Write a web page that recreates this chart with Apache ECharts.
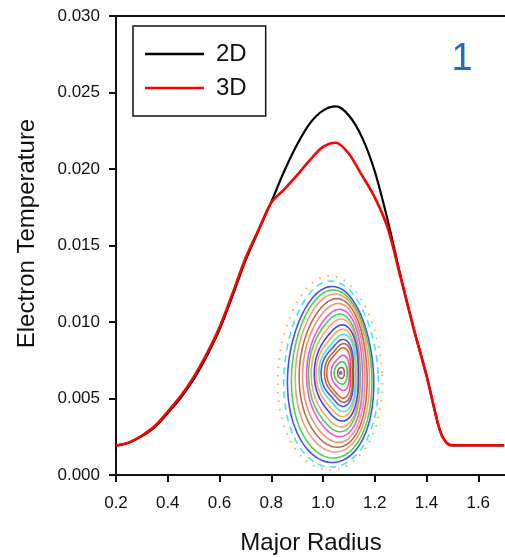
<!DOCTYPE html>
<html>
<head>
<meta charset="utf-8">
<script src="https://cdn.jsdelivr.net/npm/echarts@6/dist/echarts.min.js"></script>
<style>
  html, body { margin: 0; padding: 0; background: #fff; }
  #chart { width: 505px; height: 558px; }
</style>
</head>
<body>
<div id="chart"></div>
<script>
// Electron temperature profiles along the major radius, 2D vs 3D runs.
const radius2D = [0.20, 0.25, 0.30, 0.35, 0.40, 0.45, 0.50, 0.55, 0.60, 0.65, 0.70, 0.75, 0.80, 0.85, 0.90, 0.95, 1.00, 1.05, 1.10, 1.15, 1.20, 1.25, 1.30, 1.35, 1.40, 1.45, 1.475, 1.50, 1.55, 1.60, 1.70];
const te2D = [0.00192, 0.00211, 0.00254, 0.00313, 0.00405, 0.00505, 0.00625, 0.00775, 0.00950, 0.01170, 0.01400, 0.01595, 0.01785, 0.01985, 0.02160, 0.02300, 0.02382, 0.02409, 0.02350, 0.02210, 0.01985, 0.01665, 0.01300, 0.00960, 0.00650, 0.00300, 0.00215, 0.00194, 0.00194, 0.00194, 0.00194];

const radius3D = [0.20, 0.25, 0.30, 0.35, 0.40, 0.45, 0.50, 0.55, 0.60, 0.65, 0.70, 0.75, 0.80, 0.85, 0.90, 0.95, 1.00, 1.05, 1.10, 1.15, 1.20, 1.25, 1.30, 1.35, 1.40, 1.45, 1.475, 1.50, 1.55, 1.60, 1.70];
const te3D = [0.00192, 0.00213, 0.00258, 0.00320, 0.00415, 0.00516, 0.00640, 0.00790, 0.00965, 0.01185, 0.01415, 0.01600, 0.01780, 0.01867, 0.01960, 0.02060, 0.02145, 0.02172, 0.02100, 0.01960, 0.01815, 0.01615, 0.01290, 0.00960, 0.00650, 0.00300, 0.00215, 0.00194, 0.00194, 0.00194, 0.00194];

const seriesNames = ['2D', '3D'];
const panelTag = '1';

// Poincaré section inset: nested flux surfaces (centre, half-widths, triangularity, egg shape, colour).
const ringCx  = [1.027, 1.031, 1.031, 1.035, 1.039, 1.043, 1.046, 1.050, 1.050, 1.054, 1.058, 1.058, 1.062, 1.062, 1.066, 1.066, 1.070, 1.070, 1.070];
const ringCy  = [0.00667, 0.00660, 0.00657, 0.00660, 0.00667, 0.00667, 0.00667, 0.00667, 0.00667, 0.00667, 0.00667, 0.00667, 0.00667, 0.00667, 0.00667, 0.00667, 0.00667, 0.00667, 0.00667];
const ringRx  = [0.201, 0.182, 0.166, 0.155, 0.143, 0.131, 0.120, 0.108, 0.100, 0.093, 0.085, 0.077, 0.070, 0.062, 0.054, 0.046, 0.035, 0.025, 0.013];
const ringRy  = [0.00634, 0.00608, 0.00575, 0.00549, 0.00516, 0.00484, 0.00451, 0.00412, 0.00379, 0.00346, 0.00307, 0.00275, 0.00242, 0.00209, 0.00183, 0.00157, 0.00111, 0.00072, 0.00036];
const ringTri = [0.00, 0.00, 0.01, 0.01, 0.02, 0.03, 0.04, 0.05, 0.06, 0.07, 0.08, 0.10, 0.11, 0.12, 0.12, 0.12, 0.10, 0.06, 0.03];
const ringEgg = [0.10, 0.10, 0.10, 0.09, 0.08, 0.07, 0.06, 0.05, 0.04, 0.03, 0.02, 0.01, 0.00, 0.00, 0.00, 0.00, 0.00, 0.00, 0.00];
const ringColor = ['#ffa53c', '#2ee6f0', '#3a3af5', '#33d433', '#f2916e', '#a5623e', '#f0875f', '#f23cf0', '#2fd42f', '#f29874', '#2f2ff0', '#ff9f30', '#2de2ec', '#3c3cf2', '#9c5a34', '#f24418', '#e036e8', '#2fc42f', '#8a5432'];
const ringDash = ['dot', 'dash', 'solid', 'solid', 'solid', 'solid', 'solid', 'solid', 'solid', 'solid', 'solid', 'solid', 'solid', 'solid', 'solid', 'solid', 'solid', 'solid', 'solid'];
const axisCentre = [[1.068, 0.00667]];

const FONT = 'Liberation Sans, Arial, Helvetica, sans-serif';
const INK = '#111111';

const toPairs = (xs, ys) => xs.map((x, i) => [x, ys[i]]);
const ringRows = ringCx.map((cx, i) => [cx, ringCy[i], i]);

const chart = echarts.init(document.getElementById('chart'), null, { renderer: 'canvas' });

chart.setOption({
  backgroundColor: '#ffffff',
  animation: false,
  grid: { left: 116, right: -25, top: 16, bottom: 83, containLabel: false, outerBoundsMode: 'none' },
  legend: {
    orient: 'vertical',
    left: 133,
    top: 26,
    padding: [14, 19, 14, 12],
    itemGap: 6,
    itemWidth: 59,
    itemHeight: 2.5,
    icon: 'rect',
    borderColor: INK,
    borderWidth: 1.5,
    backgroundColor: '#ffffff',
    data: seriesNames,
    textStyle: { fontFamily: FONT, fontSize: 24, color: INK, lineHeight: 28, padding: [0, 0, 0, 7] }
  },
  xAxis: [{
    type: 'value',
    min: 0.2,
    max: 1.8,
    interval: 0.2,
    name: 'Major Radius',
    nameLocation: 'middle',
    nameGap: 56,
    nameTextStyle: { fontFamily: FONT, fontSize: 24, color: INK, padding: [0, 24, 0, 0] },
    axisLine: { show: true, onZero: false, lineStyle: { color: INK, width: 2 } },
    axisTick: { show: true, inside: false, length: 7, lineStyle: { color: INK, width: 2 } },
    axisLabel: { margin: 20, fontFamily: FONT, fontSize: 17, color: INK, formatter: v => v.toFixed(1) },
    splitLine: { show: false }
  }, {
    type: 'value',
    position: 'top',
    min: 0.2,
    max: 1.8,
    axisLine: { show: true, onZero: false, lineStyle: { color: INK, width: 2 } },
    axisTick: { show: false },
    axisLabel: { show: false },
    splitLine: { show: false }
  }],
  yAxis: {
    type: 'value',
    min: 0,
    max: 0.03,
    interval: 0.005,
    name: 'Electron Temperature',
    nameLocation: 'middle',
    nameGap: 77,
    nameTextStyle: { fontFamily: FONT, fontSize: 24, color: INK, padding: [0, 0, 0, 24] },
    axisLine: { show: true, onZero: false, lineStyle: { color: INK, width: 2 } },
    axisTick: { show: true, inside: false, length: 7, lineStyle: { color: INK, width: 2 } },
    axisLabel: { margin: 16, fontFamily: FONT, fontSize: 17, color: INK, formatter: v => v.toFixed(3) },
    splitLine: { show: false }
  },
  graphic: [{
    type: 'text',
    x: 462,
    y: 60,
    style: { text: panelTag, fontFamily: FONT, fontSize: 38, fill: '#1b70bd', textAlign: 'center', textVerticalAlign: 'middle' }
  }],
  series: [
    {
      name: 'flux surfaces',
      type: 'custom',
      silent: true,
      z: 1,
      data: ringRows,
      encode: { x: 0, y: 1 },
      renderItem: function (params, api) {
        const i = api.value(2);
        const cx = ringCx[i], cy = ringCy[i], rx = ringRx[i], ry = ringRy[i], k = ringTri[i], e = ringEgg[i];
        const pts = [];
        for (let s = 0; s <= 96; s++) {
          const t = (s / 96) * Math.PI * 2;
          const r = 1 - k * Math.cos(3 * t);
          const w = 1 - e * Math.sin(t);
          pts.push(api.coord([cx + rx * r * w * Math.cos(t), cy + ry * r * Math.sin(t)]));
        }
        const dash = ringDash[i] === 'dot' ? [1.5, 7] : ringDash[i] === 'dash' ? [7, 5] : null;
        return {
          type: 'polyline',
          shape: { points: pts, smooth: 0 },
          style: { fill: null, stroke: ringColor[i], lineWidth: ringDash[i] === 'dot' ? 2 : 1.6, lineDash: dash, opacity: 0.9 }
        };
      }
    },
    {
      name: 'axis',
      type: 'scatter',
      silent: true,
      z: 2,
      symbolSize: 4,
      itemStyle: { color: '#8a1ef0' },
      data: axisCentre
    },
    {
      name: seriesNames[0],
      type: 'line',
      z: 3,
      smooth: 0.3,
      symbol: 'none',
      color: '#000000',
      lineStyle: { color: '#000000', width: 2.2 },
      data: toPairs(radius2D, te2D)
    },
    {
      name: seriesNames[1],
      type: 'line',
      z: 4,
      smooth: 0.3,
      symbol: 'none',
      color: '#ff0000',
      lineStyle: { color: '#ff0000', width: 2.6 },
      data: toPairs(radius3D, te3D)
    }
  ]
});
</script>
</body>
</html>
